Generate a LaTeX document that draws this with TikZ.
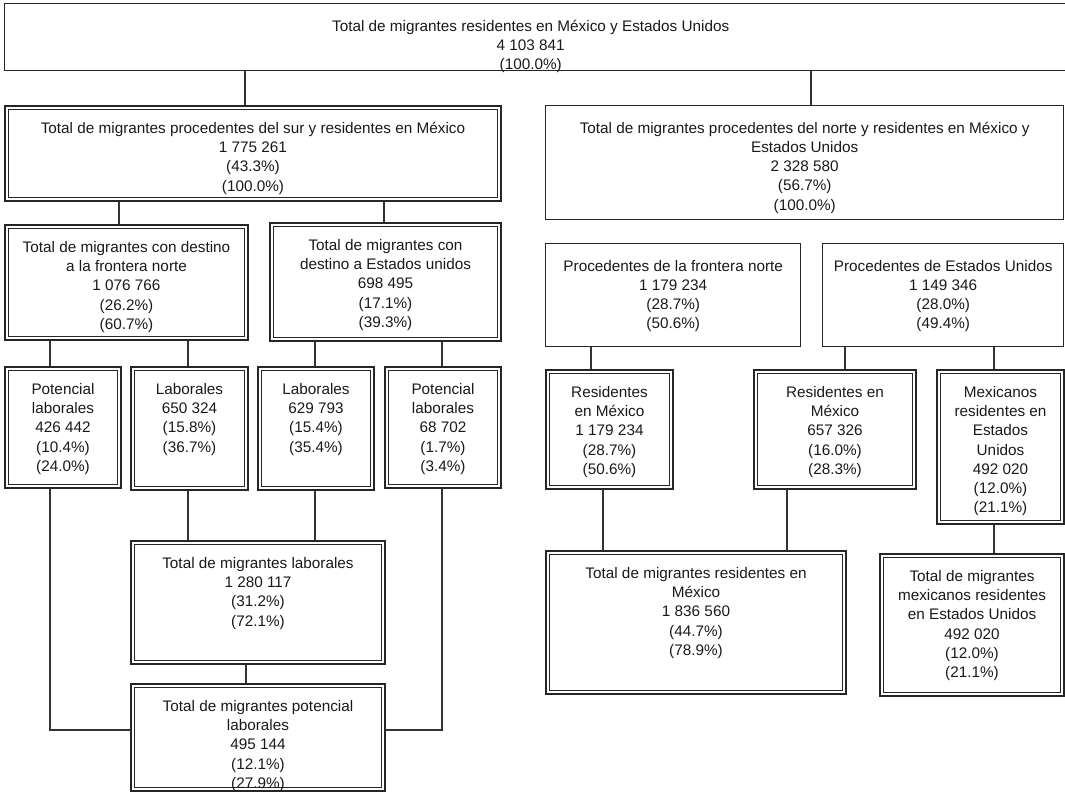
\documentclass[tikz,border=0pt]{standalone}
\usepackage{fontspec}
\setmainfont{Liberation Sans}
\tikzset{
  conn/.style={line width=1.2pt, draw=black!80},
  boxfont/.style={font=\fontsize{15.3}{19.2}\selectfont, text=black!90},
  sbox/.style={boxfont, draw=black!85, line width=1.4pt, inner sep=0pt, anchor=north west},
  dbox/.style={boxfont, draw=black!85, line width=2pt, inner sep=0pt, anchor=north west,
    path picture={\draw[black!85, line width=1pt]
      ([shift={(3.2pt,3.2pt)}]path picture bounding box.south west) rectangle
      ([shift={(-3.2pt,-3.2pt)}]path picture bounding box.north east);}},
}
\newcommand\mybox[7]{%
  \pgfmathsetlengthmacro\mybw{(#5)-(#3)}%
  \pgfmathsetlengthmacro\mybh{(#6)-(#4)}%
  \node[#1] (#2) at (#3,#4) {\parbox[c][\mybh][t]{\mybw}{\centering\rule{0pt}{27.5pt}#7}};}
\begin{document}
\begin{tikzpicture}[x=1pt, y=-1pt]
\useasboundingbox (0,0) rectangle (1065,793);
% top box (extends past right edge)
\node[sbox] (T0) at (4,3) {\parbox[c][67pt][t]{1071pt}{\parbox[t]{1052pt}{\centering\rule{0pt}{27.5pt}Total de migrantes residentes en México y Estados Unidos\\4 103 841\\(100.0\%)}}};
% level 2
\mybox{dbox}{A}{4}{105}{500}{200}{Total de migrantes procedentes del sur y residentes en México\\1 775 261\\(43.3\%)\\(100.0\%)}
\mybox{sbox}{B}{545}{105}{1063}{219}{Total de migrantes procedentes del norte y residentes en México y\\Estados Unidos\\2 328 580\\(56.7\%)\\(100.0\%)}
% level 3
\mybox{dbox}{C}{4}{224}{247}{339}{Total de migrantes con destino\\a la frontera norte\\1 076 766\\(26.2\%)\\(60.7\%)}
\mybox{dbox}{D}{269}{222}{500}{340}{Total de migrantes con\\destino a Estados unidos\\698 495\\(17.1\%)\\(39.3\%)}
\mybox{sbox}{E}{545}{243}{800}{346}{Procedentes de la frontera norte\\1 179 234\\(28.7\%)\\(50.6\%)}
\mybox{sbox}{F}{822}{243}{1063}{346}{Procedentes de Estados Unidos\\1 149 346\\(28.0\%)\\(49.4\%)}
% level 4
\mybox{dbox}{G}{4}{366}{120}{487}{Potencial\\laborales\\426 442\\(10.4\%)\\(24.0\%)}
\mybox{dbox}{H}{130}{366}{247}{489}{Laborales\\650 324\\(15.8\%)\\(36.7\%)}
\mybox{dbox}{I}{257}{366}{373}{489}{Laborales\\629 793\\(15.4\%)\\(35.4\%)}
\mybox{dbox}{J}{384}{366}{500}{487}{Potencial\\laborales\\68 702\\(1.7\%)\\(3.4\%)}
\mybox{dbox}{M}{545}{369}{672}{488}{Residentes\\en México\\1 179 234\\(28.7\%)\\(50.6\%)}
\mybox{dbox}{N}{753}{369}{915}{488}{Residentes en\\México\\657 326\\(16.0\%)\\(28.3\%)}
\mybox{dbox}{O}{936}{369}{1063}{523}{Mexicanos\\residentes en\\Estados\\Unidos\\492 020\\(12.0\%)\\(21.1\%)}
% level 5
\mybox{dbox}{K}{130}{540}{384}{663}{Total de migrantes laborales\\1 280 117\\(31.2\%)\\(72.1\%)}
\mybox{dbox}{L}{130}{683}{384}{790}{Total de migrantes potencial\\laborales\\495 144\\(12.1\%)\\(27.9\%)}
\mybox{dbox}{P}{545}{550}{845}{693}{Total de migrantes residentes en\\México\\1 836 560\\(44.7\%)\\(78.9\%)}
\mybox{dbox}{Q}{879}{553}{1063}{695}{Total de migrantes\\mexicanos residentes\\en Estados Unidos\\492 020\\(12.0\%)\\(21.1\%)}
% connectors
\draw[conn] (245,0 |- T0.south) -- (245,0 |- A.north);
\draw[conn] (811,0 |- T0.south) -- (811,0 |- B.north);
\draw[conn] (119,0 |- A.south) -- (119,0 |- C.north);
\draw[conn] (384,0 |- A.south) -- (384,0 |- D.north);
\draw[conn] (50,0 |- C.south) -- (50,0 |- G.north);
\draw[conn] (188,0 |- C.south) -- (188,0 |- H.north);
\draw[conn] (315,0 |- D.south) -- (315,0 |- I.north);
\draw[conn] (442,0 |- D.south) -- (442,0 |- J.north);
\draw[conn] (188,0 |- H.south) -- (188,0 |- K.north);
\draw[conn] (315,0 |- I.south) -- (315,0 |- K.north);
\draw[conn] (246,0 |- K.south) -- (246,0 |- L.north);
\draw[conn] (50,0 |- G.south) |- ([yshift=7.5pt]L.west);
\draw[conn] (442,0 |- J.south) |- ([yshift=7.5pt]L.east);
\draw[conn] (591,0 |- E.south) -- (591,0 |- M.north);
\draw[conn] (845,0 |- F.south) -- (845,0 |- N.north);
\draw[conn] (994,0 |- F.south) -- (994,0 |- O.north);
\draw[conn] (603,0 |- M.south) -- (603,0 |- P.north);
\draw[conn] (787,0 |- N.south) -- (787,0 |- P.north);
\draw[conn] (994,0 |- O.south) -- (994,0 |- Q.north);
\end{tikzpicture}
\end{document}
